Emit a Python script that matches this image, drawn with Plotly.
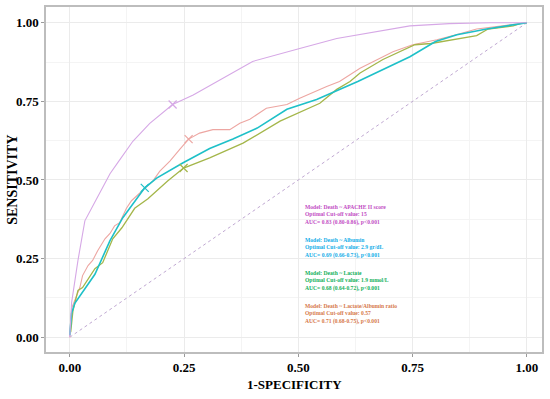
import plotly.graph_objects as go

# ---- data ----
apache_fpr = [0, 0.004, 0.018, 0.033, 0.055, 0.066, 0.088, 0.105, 0.138, 0.175, 0.225, 0.27, 0.372, 0.40, 0.503, 0.584, 0.744, 0.83, 0.92, 1.0]
apache_tpr = [0, 0.11, 0.245, 0.37, 0.43, 0.46, 0.52, 0.555, 0.623, 0.68, 0.74, 0.77, 0.855, 0.877, 0.918, 0.95, 0.99, 0.997, 1.0, 1.0]

albumin_fpr = [0, 0.004, 0.011, 0.055, 0.088, 0.116, 0.164, 0.19, 0.247, 0.306, 0.357, 0.41, 0.475, 0.54, 0.63, 0.744, 0.80, 0.847, 0.912, 0.956, 0.99, 1.0]
albumin_tpr = [0.006, 0.076, 0.108, 0.20, 0.307, 0.38, 0.475, 0.506, 0.554, 0.60, 0.63, 0.665, 0.725, 0.756, 0.813, 0.892, 0.94, 0.962, 0.98, 0.99, 0.997, 1.0]

lactate_fpr = [0.002, 0.004, 0.007, 0.018, 0.028, 0.055, 0.072, 0.094, 0.114, 0.142, 0.171, 0.214, 0.249, 0.306, 0.379, 0.46, 0.547, 0.584, 0.613, 0.635, 0.685, 0.755, 0.79, 0.89, 0.915, 0.97, 0.985, 1.0]
lactate_tpr = [0.016, 0.054, 0.085, 0.149, 0.158, 0.218, 0.237, 0.313, 0.348, 0.41, 0.44, 0.497, 0.538, 0.57, 0.617, 0.687, 0.744, 0.788, 0.813, 0.84, 0.883, 0.93, 0.934, 0.959, 0.98, 0.99, 0.997, 1.0]

ratio_fpr = [0, 0.004, 0.022, 0.028, 0.04, 0.05, 0.061, 0.077, 0.088, 0.098, 0.109, 0.124, 0.135, 0.182, 0.197, 0.219, 0.241, 0.26, 0.284, 0.313, 0.35, 0.372, 0.394, 0.43, 0.475, 0.503, 0.562, 0.59, 0.635, 0.707, 0.75, 0.803, 0.853, 0.89, 0.947, 1.0]
ratio_tpr = [0, 0.092, 0.158, 0.196, 0.228, 0.244, 0.275, 0.313, 0.33, 0.354, 0.364, 0.41, 0.434, 0.497, 0.528, 0.56, 0.598, 0.63, 0.649, 0.66, 0.66, 0.68, 0.693, 0.728, 0.74, 0.76, 0.797, 0.813, 0.855, 0.908, 0.93, 0.946, 0.965, 0.98, 0.99, 1.0]

# optimal cut-off points (1-specificity, sensitivity): APACHE, Albumin, Lactate, Ratio
cut_fpr = [0.225, 0.164, 0.249, 0.26]
cut_tpr = [0.74, 0.475, 0.538, 0.63]

tick_vals = [0, 0.25, 0.5, 0.75, 1.0]
tick_text = ["0.00", "0.25", "0.50", "0.75", "1.00"]

labels = [
    "Model: Death ~ APACHE II score<br>Optimal Cut-off value: 15<br>AUC= 0.83 (0.80-0.86), p&lt;0.001",
    "Model: Death ~ Albumin<br>Optimal Cut-off value: 2.9 gr/dL<br>AUC= 0.69 (0.66-0.73), p&lt;0.001",
    "Model: Death ~ Lactate<br>Optimal Cut-off value: 1.9 mmol/L<br>AUC= 0.68 (0.64-0.72), p&lt;0.001",
    "Model: Death ~ Lactate/Albumin ratio<br>Optimal Cut-off value: 0.57<br>AUC= 0.71 (0.68-0.75), p&lt;0.001",
]
label_y = [0.43, 0.325, 0.22, 0.115]

line_colors = ["#D6A8E6", "#1EC0C8", "#A4B64A", "#EDA6A2"]
text_colors = ["#C24CC4", "#12ADE8", "#12B05A", "#D6784A"]

FONT = "Liberation Serif"

fig = go.Figure()

# diagonal reference
fig.add_trace(go.Scatter(x=[0, 1], y=[0, 1], mode="lines",
                         line=dict(color="#C0A8D2", width=1, dash="dot"),
                         hoverinfo="skip", showlegend=False))

curves = [
    (ratio_fpr, ratio_tpr, line_colors[3], 1.1),
    (lactate_fpr, lactate_tpr, line_colors[2], 1.3),
    (albumin_fpr, albumin_tpr, line_colors[1], 1.6),
    (apache_fpr, apache_tpr, line_colors[0], 1.1),
]
for fx, fy, col, w in curves:
    fig.add_trace(go.Scatter(x=fx, y=fy, mode="lines",
                             line=dict(color=col, width=w), showlegend=False))

for i in range(4):
    fig.add_trace(go.Scatter(x=[cut_fpr[i]], y=[cut_tpr[i]], mode="markers",
                             marker=dict(symbol="x-thin-open", size=8,
                                         color=line_colors[i],
                                         line=dict(color=line_colors[i], width=1.2)),
                             showlegend=False))

for i in range(4):
    fig.add_annotation(x=0.51, y=label_y[i], xref="x", yref="y",
                       text="<b>" + labels[i] + "</b>", showarrow=False, align="left",
                       xanchor="left", yanchor="top",
                       font=dict(family=FONT, size=5.6, color=text_colors[i]))

# axis titles
fig.add_annotation(x=0.5, y=-0.068, xref="paper", yref="paper",
                   text="<b>1-SPECIFICITY</b>", showarrow=False,
                   xanchor="center", yanchor="top",
                   font=dict(family=FONT, size=13, color="#000000"))
fig.add_annotation(x=-0.068, y=0.5, xref="paper", yref="paper",
                   text="<b>SENSITIVITY</b>", showarrow=False, textangle=-90,
                   xanchor="center", yanchor="middle",
                   font=dict(family=FONT, size=14, color="#000000"))

axis_common = dict(
    tickvals=tick_vals, ticktext=["<b>%s</b>" % t for t in tick_text],
    tickfont=dict(family=FONT, size=13, color="#000000"),
    showgrid=True, gridcolor="#EBEBEB", gridwidth=1,
    minor=dict(tickvals=[0.125, 0.375, 0.625, 0.875], showgrid=True,
               gridcolor="#F4F4F4", gridwidth=0.6, ticks=""),
    zeroline=False, showline=True, mirror=True,
    linecolor="#BDBDBD", linewidth=1.5,
    ticks="outside", ticklen=3, tickcolor="#9A9A9A", tickwidth=1,
)

fig.update_layout(
    width=550, height=399,
    margin=dict(l=46, r=8, t=5, b=47),
    plot_bgcolor="#FFFFFF", paper_bgcolor="#FFFFFF",
    xaxis=dict(range=[-0.052, 1.033], **axis_common),
    yaxis=dict(range=[-0.047, 1.05], **axis_common),
    showlegend=False,
)

fig.write_html("out.html", config={"displayModeBar": False},
               post_script="document.body.style.margin='0';")
